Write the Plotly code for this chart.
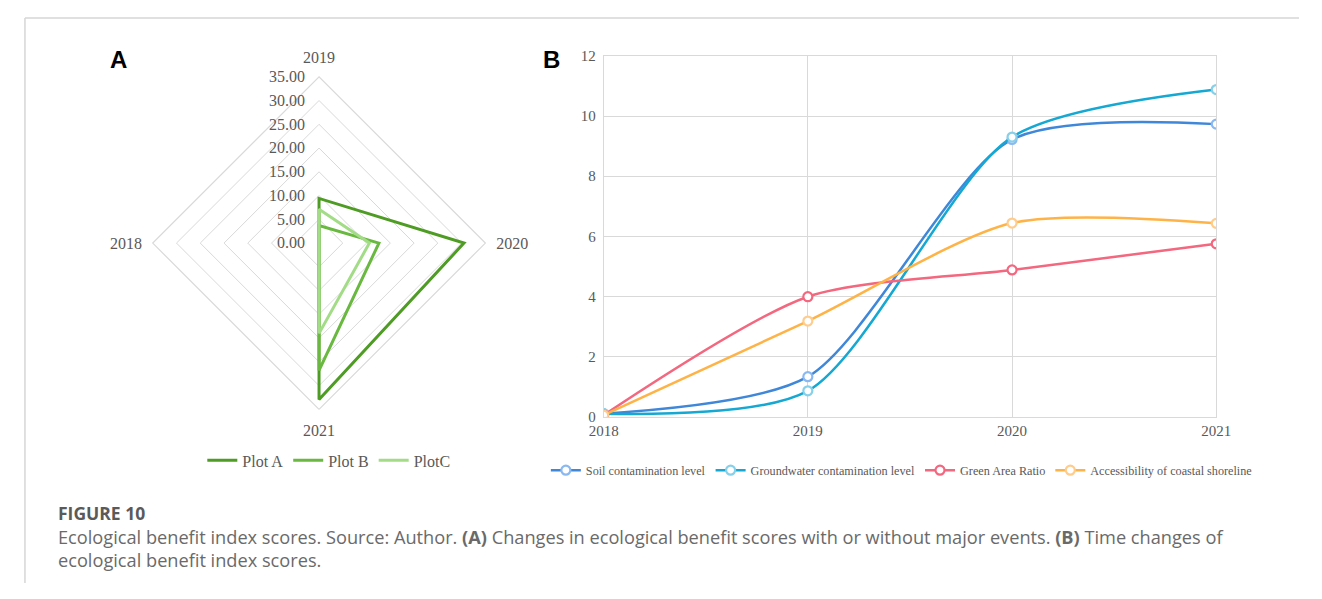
import plotly.graph_objects as go

# Page is 1322x599; the plot div sits inside the 8px body margin.
PAGE_W, PAGE_H = 1322, 599
OFF = 8
FW, FH = PAGE_W - 2 * OFF, PAGE_H - 2 * OFF

# ---------------- data ----------------
radar_years = ["2018", "2019", "2020", "2021"]
plot_a = [0.0, 9.4, 30.5, 32.9]
plot_b = [0.0, 3.7, 12.6, 26.8]
plot_c = [0.0, 7.1, 10.6, 19.0]
radar_names = ["Plot A", "Plot B", "PlotC"]
radar_ticks = [0, 5, 10, 15, 20, 25, 30, 35]

years = [2018, 2019, 2020, 2021]
soil = [0.10, 1.33, 9.22, 9.73]
groundwater = [0.10, 0.86, 9.30, 10.88]
green_area = [0.05, 3.99, 4.88, 5.75]
accessibility = [0.05, 3.18, 6.44, 6.43]
line_names = ["Soil contamination level", "Groundwater contamination level",
              "Green Area Ratio", "Accessibility of coastal shoreline"]
y_ticks = [0, 2, 4, 6, 8, 10, 12]

caption_title = "FIGURE 10"
caption_line1 = ("Ecological benefit index scores. Source: Author. <b>(A)</b> Changes in ecological "
                 "benefit scores with or without major events. <b>(B)</b> Time changes of")
caption_line2 = "ecological benefit index scores."

# ---------------- styles ----------------
radar_colors = ["#4e9c24", "#69b83f", "#a3dc86"]
line_colors = ["#3f87d8", "#15a8d2", "#f3677f", "#ffb347"]
marker_edges = ["#8ab8f0", "#86d0ea", "#f3677f", "#ffcc8c"]
SERIF = "Liberation Serif, Times New Roman, serif"
GRID = "#d9d9d9"
TICK = "#595959"

def px_x(x):
    return (x - OFF) / FW

def px_y(y):
    return 1 - (y - OFF) / FH

fig = go.Figure()

for vals, name, col in zip([plot_a, plot_b, plot_c], radar_names, radar_colors):
    fig.add_trace(go.Scatterpolar(
        r=vals + [vals[0]], theta=radar_years + [radar_years[0]],
        mode="lines", name=name, line=dict(color=col, width=3),
        legend="legend", subplot="polar"))

for vals, name, col, edge in zip([soil, groundwater, green_area, accessibility],
                                  line_names, line_colors, marker_edges):
    fig.add_trace(go.Scatter(
        x=years, y=vals, mode="lines+markers", name=name,
        line=dict(color=col, width=2.5, shape="spline", smoothing=0.75),
        marker=dict(size=9, color="white", line=dict(color=edge, width=2.2)),
        legend="legend2", xaxis="x", yaxis="y"))

cx, cy, rad = 311, 241.5, 171
fig.update_layout(
    width=FW, height=FH,
    margin=dict(l=0, r=0, t=0, b=0),
    paper_bgcolor="white", plot_bgcolor="white",
    polar=dict(
        domain=dict(x=[px_x(cx - rad), px_x(cx + rad)], y=[px_y(cy + rad), px_y(cy - rad)]),
        gridshape="linear",
        bgcolor="white",
        radialaxis=dict(range=[0, 35], tickvals=radar_ticks, tickformat=".2f",
                        angle=90, tickangle=90, side="counterclockwise",
                        showline=False, ticks="outside", ticklen=8,
                        tickcolor="rgba(0,0,0,0)",
                        gridcolor=GRID, gridwidth=1.2,
                        tickfont=dict(family=SERIF, size=16, color=TICK)),
        angularaxis=dict(categoryarray=radar_years, categoryorder="array",
                         rotation=180, direction="clockwise",
                         showgrid=False, showline=True, linecolor=GRID, linewidth=1.2,
                         ticks="outside", ticklen=7, tickcolor="rgba(0,0,0,0)",
                         tickfont=dict(family=SERIF, size=16, color=TICK)),
    ),
    xaxis=dict(domain=[px_x(602.3), px_x(1229.3)], range=[2018, 2021],
               tickvals=years, ticktext=[str(y) for y in years],
               showgrid=True, gridcolor=GRID, zeroline=False,
               showline=True, mirror=True, linecolor=GRID, ticks="",
               tickfont=dict(family=SERIF, size=15, color=TICK)),
    yaxis=dict(domain=[px_y(420), px_y(49)], range=[0, 12], tickvals=y_ticks,
               showgrid=True, gridcolor=GRID, zeroline=False,
               showline=True, mirror=True, linecolor=GRID, ticks="",
               ticklabelstandoff=4,
               tickfont=dict(family=SERIF, size=15, color=TICK)),
    legend=dict(orientation="h", x=px_x(321), y=px_y(465), xanchor="center", yanchor="middle",
                font=dict(family=SERIF, size=16, color=TICK), itemwidth=30,
                bgcolor="rgba(0,0,0,0)"),
    legend2=dict(orientation="h", x=px_x(907), y=px_y(475), xanchor="center", yanchor="middle",
                 font=dict(family=SERIF, size=12.2, color=TICK), itemwidth=30,
                 bgcolor="rgba(0,0,0,0)"),
    showlegend=True,
)

for lab, x in [("A", 106), ("B", 549)]:
    fig.add_annotation(text=f"<b>{lab}</b>", x=px_x(x), y=px_y(53), xref="paper", yref="paper",
                       showarrow=False, xanchor="center", yanchor="middle",
                       font=dict(family="Liberation Sans, Arial, sans-serif", size=24, color="black"))

CAP = "Open Sans, DejaVu Sans, sans-serif"
caption_text = (f"<span style='font-size:17.5px;color:#5a5a5a'><b>{caption_title}</b></span><br>"
                f"{caption_line1}<br>{caption_line2}")
fig.add_annotation(text=caption_text, x=px_x(42), y=px_y(543), xref="paper", yref="paper",
                   showarrow=False, xanchor="left", yanchor="middle", align="left",
                   font=dict(family=CAP, size=18.2, color="#6a6a6a"))

fig.add_shape(type="line", xref="paper", yref="paper", x0=px_x(10), x1=1, y0=px_y(10), y1=px_y(10),
              line=dict(color="#d6d6d6", width=1.5))
fig.add_shape(type="line", xref="paper", yref="paper", x0=px_x(10), x1=px_x(10), y0=px_y(10), y1=0,
              line=dict(color="#d6d6d6", width=1.5))

fig.write_html("out.html")
